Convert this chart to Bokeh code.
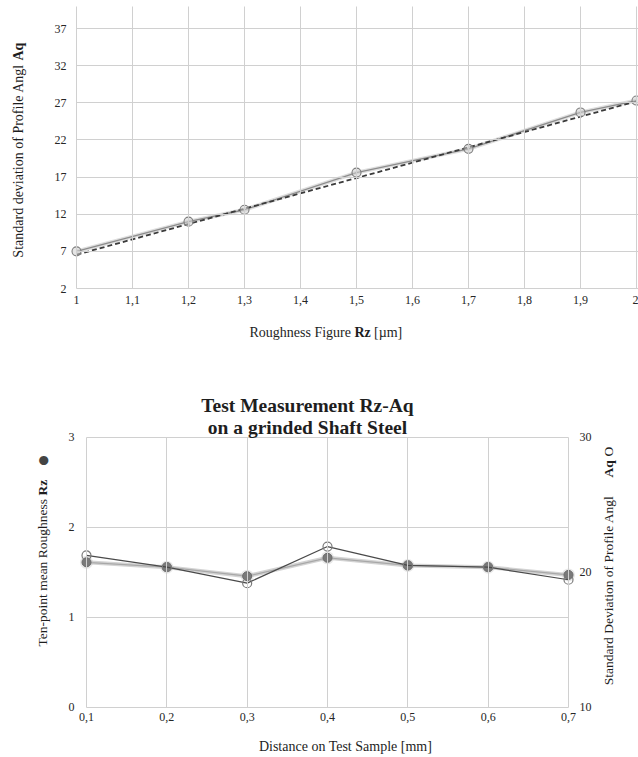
import math
from bokeh.plotting import figure
from bokeh.models import Label, LinearAxis, Range1d, FixedTicker, CustomJSTickFormatter
from bokeh.layouts import column
from bokeh.embed import file_html
from bokeh.resources import INLINE

# ---------------- data: top chart ----------------
rz_top = [1.0, 1.2, 1.3, 1.5, 1.7, 1.9, 2.0]
aq_top = [7.0, 11.0, 12.6, 17.6, 20.8, 25.7, 27.3]
trend_x = [1.0, 2.0]
trend_y = [6.55, 27.2]
top_x_ticks = [1.0, 1.1, 1.2, 1.3, 1.4, 1.5, 1.6, 1.7, 1.8, 1.9, 2.0]
top_y_ticks = [2, 7, 12, 17, 22, 27, 32, 37]

# ---------------- data: bottom chart ----------------
dist = [0.1, 0.2, 0.3, 0.4, 0.5, 0.6, 0.7]
rz_bottom = [1.61, 1.556, 1.456, 1.66, 1.575, 1.555, 1.47]
aq_bottom = [21.24, 20.37, 19.19, 21.9, 20.5, 20.37, 19.44]
bottom_left_ticks = [0, 1, 2, 3]
bottom_right_ticks = [10, 20, 30]

SERIF = "Liberation Serif"
TXT = "#1e1e1e"
TICKTXT = "#262626"
GRID = "#d0d0d0"
W = 638
TOP_H = 350
BOT_H = 407

comma_fmt = CustomJSTickFormatter(code="""
const v = Math.round(tick*10)/10;
return v.toString().replace('.', ',');
""")


def plabel(fig, top, h, px, py, text, size, bold=False, angle=0.0,
           align="left", baseline="middle", font=SERIF, color=TXT):
    # px, py are page pixel positions; the frame fills the whole canvas
    fig.add_layout(Label(x=px, y=top + h - py, x_units="screen", y_units="screen",
                         text=text, text_font=font, text_font_size=size,
                         text_font_style="bold" if bold else "normal",
                         angle=angle, text_align=align, text_baseline=baseline,
                         text_color=color))


def style_axis(ax, standoff):
    ax.axis_line_color = None
    ax.minor_tick_line_color = None
    ax.major_tick_out = 0
    ax.major_label_text_font = SERIF
    ax.major_label_text_font_size = "12px"
    ax.major_label_text_color = TICKTXT
    ax.major_label_standoff = standoff


# ================= top figure =================
# plot area: x=1 at px 76, 560 px per unit; y=2 at px 288, 37 at px 28
tx_ppu = 560.0
ty_ppu = (288 - 28) / 35.0
p1 = figure(width=W, height=TOP_H, output_backend="svg", toolbar_location=None,
            x_range=Range1d(1 - 76 / tx_ppu, 1 + (W - 76) / tx_ppu),
            y_range=Range1d(2 - (TOP_H - 288) / ty_ppu, 2 + 288 / ty_ppu),
            min_border_left=0, min_border_right=0, min_border_top=0,
            min_border_bottom=0)
p1.outline_line_color = None
p1.background_fill_color = "white"
p1.border_fill_color = "white"
p1.grid.visible = False

xa1 = p1.xaxis[0]
xa1.ticker = FixedTicker(ticks=top_x_ticks)
xa1.formatter = comma_fmt
xa1.fixed_location = 2
style_axis(xa1, 7)
xa1.major_tick_in = 282          # vertical grid lines up to the top of the plot area
xa1.major_tick_line_color = GRID

ya1 = p1.yaxis[0]
ya1.ticker = FixedTicker(ticks=top_y_ticks)
ya1.fixed_location = 1
style_axis(ya1, 10)
ya1.major_tick_in = W - 76       # horizontal grid lines across the plot area
ya1.major_tick_line_color = GRID

# data line (soft glow + line) and markers
p1.line(rz_top, aq_top, line_color="#d6d6d6", line_width=4, line_alpha=0.8)
p1.line(rz_top, aq_top, line_color="#8c8c8c", line_width=1.3)
p1.line(trend_x, trend_y, line_color="#3a3a3a", line_width=1.8, line_dash="5 3")
p1.scatter(rz_top, aq_top, size=9, marker="circle", fill_color="#cfcfcf",
           fill_alpha=0.55, line_color="#7d7d7d", line_width=1.1)

# y-axis title (rotated), mixed bold
plabel(p1, 0, TOP_H, 18, 63.5, "Standard deviation of Profile Angl", "14px",
       angle=math.pi / 2, align="right")
plabel(p1, 0, TOP_H, 18, 60, "Aq", "14px", bold=True, angle=math.pi / 2, align="left")
# x-axis title
plabel(p1, 0, TOP_H, 249, 332, "Roughness Figure", "14px")
plabel(p1, 0, TOP_H, 354, 332, "Rz", "14px", bold=True)
plabel(p1, 0, TOP_H, 373.5, 332, "[\u00b5m]", "14px")

# ================= bottom figure =================
# plot area: x 0.1 -> px 86, 0.7 -> px 568; left y 0 -> 706.7, 3 -> 436.7
B0 = TOP_H
bx_ppu = (568 - 86) / 0.6
by_ppu = (706.7 - 436.7) / 3.0
br_ppu = (706.7 - 436.7) / 20.0
p2 = figure(width=W, height=BOT_H, output_backend="svg", toolbar_location=None,
            x_range=Range1d(0.1 - 86 / bx_ppu, 0.7 + (W - 568) / bx_ppu),
            y_range=Range1d(0 - (B0 + BOT_H - 706.7) / by_ppu,
                            3 + (436.7 - B0) / by_ppu),
            min_border_left=0, min_border_right=0, min_border_top=0,
            min_border_bottom=0)
p2.extra_y_ranges = {"aq": Range1d(10 - (B0 + BOT_H - 706.7) / br_ppu,
                                   30 + (436.7 - B0) / br_ppu)}
p2.outline_line_color = None
p2.background_fill_color = "white"
p2.border_fill_color = "white"
p2.grid.visible = False

xa2 = p2.xaxis[0]
xa2.ticker = FixedTicker(ticks=dist)
xa2.formatter = comma_fmt
xa2.fixed_location = 0
style_axis(xa2, 6)
xa2.major_tick_in = 270
xa2.major_tick_line_color = GRID

ya2 = p2.yaxis[0]
ya2.ticker = FixedTicker(ticks=bottom_left_ticks)
ya2.fixed_location = 0.1
style_axis(ya2, 12)
ya2.major_tick_in = 568 - 86
ya2.major_tick_line_color = GRID

right_axis = LinearAxis(y_range_name="aq", ticker=FixedTicker(ticks=bottom_right_ticks))
right_axis.fixed_location = 0.7
p2.add_layout(right_axis, "right")
style_axis(right_axis, 11)
right_axis.major_tick_in = 0
right_axis.major_tick_line_color = None

# Rz series (left axis): soft thick line + filled markers
p2.line(dist, rz_bottom, line_color="#c4c4c4", line_width=4, line_alpha=0.75)
p2.line(dist, rz_bottom, line_color="#a8a8a8", line_width=1.2)
p2.scatter(dist, rz_bottom, size=13, marker="circle", fill_color="#bdbdbd",
           fill_alpha=0.35, line_color=None)
p2.scatter(dist, rz_bottom, size=9, marker="circle", fill_color="#7a7a7a",
           line_color="#6a6a6a", line_width=1)
# Aq series (right axis): thin dark line + open markers
p2.line(dist, aq_bottom, y_range_name="aq", line_color="#4a4a4a", line_width=1.2)
p2.scatter(dist, aq_bottom, y_range_name="aq", size=9, marker="circle",
           fill_alpha=0, line_color="#7a7a7a", line_width=1.2)

# title
plabel(p2, B0, BOT_H, 307, 405, "Test Measurement Rz-Aq", "19.5px", bold=True,
       align="center", baseline="alphabetic")
plabel(p2, B0, BOT_H, 307, 427, "on a grinded Shaft Steel", "19.5px", bold=True,
       align="center", baseline="alphabetic")
# left axis title
plabel(p2, B0, BOT_H, 42, 498.5, "Ten-point mean Roughness", "13.5px",
       angle=math.pi / 2, align="right")
plabel(p2, B0, BOT_H, 42, 495, "Rz", "13.5px", bold=True, angle=math.pi / 2, align="left")
plabel(p2, B0, BOT_H, 42, 460, "\u25cf", "12px", angle=math.pi / 2, align="center",
       font="DejaVu Sans", color="#444444")
# right axis title
plabel(p2, B0, BOT_H, 608, 495, "Standard Deviation of Profile Angl", "13.5px",
       angle=math.pi / 2, align="right")
plabel(p2, B0, BOT_H, 608, 477, "Aq", "13.5px", bold=True, angle=math.pi / 2, align="left")
plabel(p2, B0, BOT_H, 608, 456, "O", "13.5px", angle=math.pi / 2, align="left")
# x-axis title
plabel(p2, B0, BOT_H, 345, 746, "Distance on Test Sample [mm]", "14px", align="center")

layout = column(p1, p2, spacing=0)
open("out.html", "w").write(file_html(layout, INLINE))
